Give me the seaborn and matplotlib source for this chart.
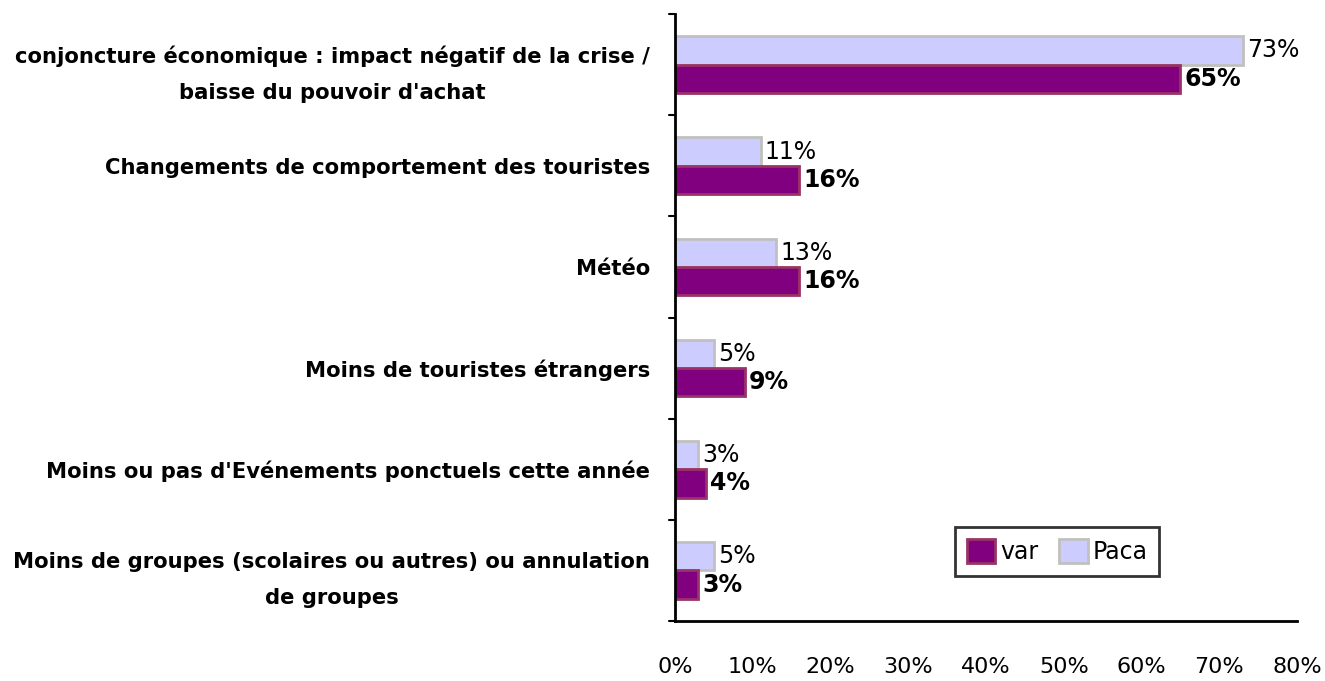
import matplotlib
matplotlib.use("Agg")
import matplotlib.pyplot as plt
import seaborn as sns
import pandas as pd
from matplotlib.patches import Patch

categories = [
    "conjoncture économique : impact négatif de la crise /\nbaisse du pouvoir d'achat",
    "Changements de comportement des touristes",
    "Météo",
    "Moins de touristes étrangers",
    "Moins ou pas d'Evénements ponctuels cette année",
    "Moins de groupes (scolaires ou autres) ou annulation\nde groupes",
]
paca = [73, 11, 13, 5, 3, 5]
var = [65, 16, 16, 9, 4, 3]
series_names = ["Paca", "var"]
xticks = [0, 10, 20, 30, 40, 50, 60, 70, 80]

df = pd.DataFrame({
    "cat": categories * 2,
    "serie": ["Paca"] * len(categories) + ["var"] * len(categories),
    "val": paca + var,
})

sns.set_style("white")
plt.rcParams["font.family"] = ["DejaVu Sans"]
plt.rcParams["text.color"] = "black"

fig = plt.figure(figsize=(13.25, 6.81), dpi=100)
ax = fig.add_axes([675 / 1325, 60 / 681, (1297 - 675) / 1325, (621 - 14) / 681])

colors = {"Paca": "#CCCCFF", "var": "#800080"}
edges = {"Paca": "#C0C0C0", "var": "#993366"}
sns.barplot(data=df, y="cat", x="val", hue="serie", hue_order=series_names,
            order=categories, palette=colors, orient="h", width=0.56,
            ax=ax, legend=False, saturation=1)

for cont, name in zip(ax.containers, series_names):
    for p in cont:
        p.set_edgecolor(edges[name])
        p.set_linewidth(2)
    vals = paca if name == "Paca" else var
    ax.bar_label(cont, labels=[f"{v}%" for v in vals], padding=3,
                 fontsize=17, fontweight="bold" if name == "var" else "normal",
                 color="black")

ax.set_xlim(0, 80)
ax.set_xticks(xticks)
ax.set_xticklabels([f"{t}%" for t in xticks], fontsize=16, color="black")
ax.set_xlabel("")
ax.set_ylabel("")
ax.set_ylim(len(categories) - 0.5, -0.5)
ax.set_yticks(range(len(categories)))
ax.set_yticklabels(categories, fontsize=15.2, fontweight="bold", ha="right",
                   multialignment="center", linespacing=1.95, color="black")
ax.tick_params(axis="y", length=0, pad=18)
ax.tick_params(axis="x", length=8, width=1.5, direction="out", pad=18)
# category separator ticks
for b in [i - 0.5 for i in range(len(categories) + 1)]:
    ax.plot([-0.009, 0], [b, b], transform=ax.get_yaxis_transform(),
            color="black", lw=1.5, clip_on=False)

for s in ["top", "right"]:
    ax.spines[s].set_visible(False)
for s in ["left", "bottom"]:
    ax.spines[s].set_linewidth(2)
    ax.spines[s].set_color("black")

handles = [Patch(facecolor=colors["var"], edgecolor=edges["var"], lw=2, label="var"),
           Patch(facecolor=colors["Paca"], edgecolor=edges["Paca"], lw=2, label="Paca")]
leg = ax.legend(handles=handles, ncol=2, loc="upper left",
                bbox_to_anchor=((955 - 675) / 622, 1 - (527 - 14) / 607),
                borderaxespad=0, labelcolor="black",
                fontsize=17, frameon=True, fancybox=False, handlelength=1.2,
                handleheight=1.2, handletextpad=0.2, columnspacing=0.9,
                borderpad=0.5)
leg.get_frame().set_edgecolor("black")
leg.get_frame().set_linewidth(2)

fig.savefig("out.png", dpi=100)
